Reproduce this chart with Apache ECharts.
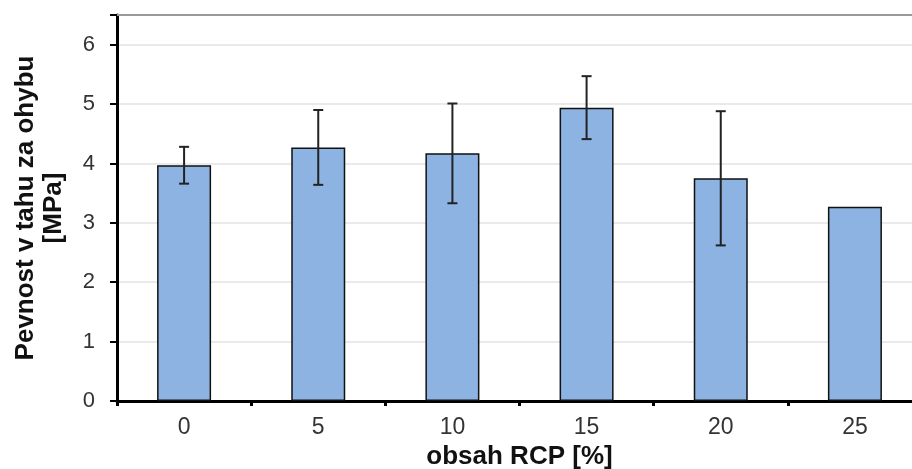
<!DOCTYPE html>
<html>
<head>
<meta charset="utf-8">
<script src="https://cdn.jsdelivr.net/npm/echarts@6/dist/echarts.min.js"></script>
<style>
  html, body { margin: 0; padding: 0; background: #fff; }
  #chart { width: 912px; height: 469px; }
</style>
</head>
<body>
<div id="chart"></div>
<script>
// obsah RCP [%]
var categories = ['0', '5', '10', '15', '20', '25'];
// pevnost v tahu za ohybu [MPa]
var strength = [3.97, 4.27, 4.17, 4.94, 3.75, 3.27];
// smerodatna odchylka (25 % bez chybove usecky)
var deviation = [0.31, 0.63, 0.84, 0.53, 1.13, 0];
var yTicks = [0, 1, 2, 3, 4, 5, 6];

var font = 'Liberation Sans, Arial, sans-serif';

var errorData = categories.map(function(c, i) {
    return [i, strength[i] - deviation[i], strength[i] + deviation[i]];
});

var chart = echarts.init(document.getElementById('chart'));

var option = {
    backgroundColor: '#fff',
    animation: false,
    // plocha grafu presahuje pravy okraj obrazku
    grid: { left: 117, top: 15, width: 805, bottom: 68, outerBoundsMode: 'none', containLabel: false },
    xAxis: [{
        type: 'category',
        data: categories,
        boundaryGap: true,
        name: 'obsah RCP [%]',
        nameLocation: 'middle',
        nameGap: 41,
        nameTextStyle: { fontFamily: font, fontSize: 26, fontWeight: 'bold', color: '#111', verticalAlign: 'top' },
        axisLine: { lineStyle: { color: '#000', width: 3 } },
        axisTick: { show: true, length: 5, lineStyle: { color: '#000', width: 3 } },
        axisLabel: { fontFamily: font, fontSize: 23, color: '#333', margin: 15 },
        splitLine: { show: false }
    }, {
        type: 'category',
        data: categories,
        position: 'top',
        axisLine: { lineStyle: { color: '#999', width: 2 } },
        axisTick: { show: false },
        axisLabel: { show: false }
    }],
    yAxis: {
        type: 'value',
        min: 0,
        max: 6.5,
        interval: 1,
        name: 'Pevnost v tahu za ohybu\n[MPa]',
        nameLocation: 'middle',
        nameGap: 49,
        nameRotate: 90,
        nameTextStyle: { fontFamily: font, fontSize: 26, fontWeight: 'bold', color: '#111', lineHeight: 28 },
        axisLine: { show: true, lineStyle: { color: '#000', width: 3 } },
        axisTick: { show: true, length: 7, lineStyle: { color: '#000', width: 2 } },
        axisLabel: {
            fontFamily: font, fontSize: 22, color: '#333', margin: 22,
            formatter: function(v) { return yTicks.indexOf(v) >= 0 ? String(v) : ''; }
        },
        splitLine: { show: true, lineStyle: { color: '#e3e3e3', width: 1.5 } }
    },
    series: [{
        type: 'bar',
        data: strength,
        barWidth: 54,
        itemStyle: { color: '#8DB3E2', borderColor: '#111', borderWidth: 1.5 },
        z: 2
    }, {
        type: 'custom',
        data: errorData,
        z: 3,
        renderItem: function(params, api) {
            var idx = api.value(0);
            var lo = api.coord([idx, api.value(1)]);
            var hi = api.coord([idx, api.value(2)]);
            if (api.value(2) - api.value(1) <= 0) {
                return null;
            }
            var cap = 5;
            var style = { stroke: '#222', lineWidth: 2 };
            return {
                type: 'group',
                children: [
                    { type: 'line', shape: { x1: hi[0], y1: hi[1], x2: lo[0], y2: lo[1] }, style: style },
                    { type: 'line', shape: { x1: hi[0] - cap, y1: hi[1], x2: hi[0] + cap, y2: hi[1] }, style: style },
                    { type: 'line', shape: { x1: lo[0] - cap, y1: lo[1], x2: lo[0] + cap, y2: lo[1] }, style: style }
                ]
            };
        }
    }]
};

chart.setOption(option);
</script>
</body>
</html>
